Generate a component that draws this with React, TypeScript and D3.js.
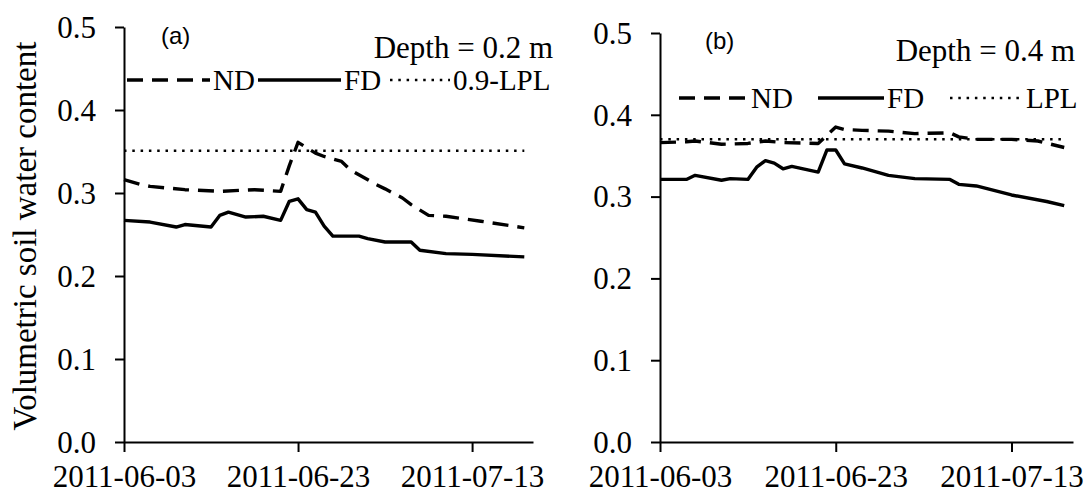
import { useEffect, useRef } from "react";
import * as d3 from "d3";

// shared axis values
const xStart = "2011-06-03";
const xEnd = "2011-07-20";
const xTickLabels = ["2011-06-03", "2011-06-23", "2011-07-13"];
const yTickValues = [0, 0.1, 0.2, 0.3, 0.4, 0.5];

// panel (a), depth 0.2 m
const fdDatesA = ["2011-06-03", "2011-06-06", "2011-06-09", "2011-06-10", "2011-06-13", "2011-06-14", "2011-06-15", "2011-06-17", "2011-06-19", "2011-06-21", "2011-06-22", "2011-06-23", "2011-06-24", "2011-06-25", "2011-06-26", "2011-06-27", "2011-06-30", "2011-07-01", "2011-07-03", "2011-07-06", "2011-07-07", "2011-07-10", "2011-07-13", "2011-07-19"];
const fdValuesA = [0.267, 0.265, 0.259, 0.262, 0.259, 0.273, 0.277, 0.271, 0.272, 0.267, 0.29, 0.293, 0.28, 0.277, 0.26, 0.248, 0.248, 0.245, 0.241, 0.241, 0.231, 0.227, 0.226, 0.223];
const ndDatesA = ["2011-06-03", "2011-06-05", "2011-06-06", "2011-06-10", "2011-06-14", "2011-06-18", "2011-06-21", "2011-06-22", "2011-06-23", "2011-06-25", "2011-06-26", "2011-06-28", "2011-06-29", "2011-07-02", "2011-07-03", "2011-07-05", "2011-07-06", "2011-07-08", "2011-07-10", "2011-07-14", "2011-07-19"];
const ndValuesA = [0.316, 0.31, 0.308, 0.304, 0.302, 0.304, 0.302, 0.333, 0.361, 0.348, 0.344, 0.338, 0.328, 0.31, 0.305, 0.294, 0.286, 0.273, 0.272, 0.266, 0.258];
const lplDatesA = ["2011-06-03", "2011-07-19"];
const lplValuesA = [0.351, 0.351];

// panel (b), depth 0.4 m
const fdDatesB = ["2011-06-03", "2011-06-06", "2011-06-07", "2011-06-10", "2011-06-11", "2011-06-13", "2011-06-14", "2011-06-15", "2011-06-16", "2011-06-17", "2011-06-18", "2011-06-21", "2011-06-22", "2011-06-23", "2011-06-24", "2011-06-26", "2011-06-28", "2011-06-29", "2011-07-02", "2011-07-06", "2011-07-07", "2011-07-09", "2011-07-13", "2011-07-17", "2011-07-19"];
const fdValuesB = [0.321, 0.321, 0.326, 0.32, 0.322, 0.321, 0.336, 0.344, 0.341, 0.334, 0.337, 0.33, 0.357, 0.357, 0.34, 0.335, 0.329, 0.326, 0.322, 0.321, 0.315, 0.313, 0.302, 0.294, 0.289];
const ndDatesB = ["2011-06-03", "2011-06-06", "2011-06-07", "2011-06-10", "2011-06-13", "2011-06-15", "2011-06-17", "2011-06-21", "2011-06-23", "2011-06-24", "2011-06-26", "2011-06-29", "2011-07-02", "2011-07-06", "2011-07-07", "2011-07-09", "2011-07-13", "2011-07-16", "2011-07-19"];
const ndValuesB = [0.366, 0.367, 0.368, 0.364, 0.365, 0.368, 0.366, 0.365, 0.385, 0.382, 0.381, 0.38, 0.377, 0.378, 0.373, 0.37, 0.37, 0.368, 0.36];
const lplDatesB = ["2011-06-03", "2011-07-19"];
const lplValuesB = [0.37, 0.37];

const parseDate = d3.utcParse("%Y-%m-%d");
const serif = "'Liberation Serif', 'Times New Roman', serif";
const sans = "'Liberation Sans', Arial, sans-serif";

const DASH = "16,9";
const DOT = "2.5,5.8";

interface Panel {
  left: number;
  right: number;
  top: number;
  bottom: number;
  tag: string;
  tagX: number;
  tagY: number;
  depth: string;
  depthX: number;
  depthY: number;
  legendX: number[];
  legendY: number;
  legendLen: number[];
  lplLabel: string;
  fd: [string[], number[]];
  nd: [string[], number[]];
  lpl: [string[], number[]];
}

const panels: Panel[] = [
  {
    left: 124, right: 533, top: 27, bottom: 442,
    tag: "(a)", tagX: 161, tagY: 44,
    depth: "Depth = 0.2 m", depthX: 553, depthY: 58,
    legendX: [127, 258, 390], legendY: 80, legendLen: [83, 83, 60],
    lplLabel: "0.9-LPL",
    fd: [fdDatesA, fdValuesA], nd: [ndDatesA, ndValuesA], lpl: [lplDatesA, lplValuesA],
  },
  {
    left: 660, right: 1073, top: 33, bottom: 442,
    tag: "(b)", tagX: 705, tagY: 49,
    depth: "Depth = 0.4 m", depthX: 1075, depthY: 61,
    legendX: [679, 818, 950], legendY: 98, legendLen: [69, 66, 73],
    lplLabel: "LPL",
    fd: [fdDatesB, fdValuesB], nd: [ndDatesB, ndValuesB], lpl: [lplDatesB, lplValuesB],
  },
];

export default function App() {
  const svgRef = useRef<SVGSVGElement>(null);

  useEffect(() => {
    if (!svgRef.current) return;
    const svg = d3.select(svgRef.current);
    svg.selectAll("*").remove();

    // y title
    svg
      .append("text")
      .attr("transform", "translate(36, 236) rotate(-90)")
      .attr("text-anchor", "middle")
      .attr("font-family", serif)
      .attr("font-size", "33px")
      .attr("fill", "#000")
      .text("Volumetric soil water content");

    panels.forEach((p) => {
      const x = d3
        .scaleUtc()
        .domain([parseDate(xStart)!, parseDate(xEnd)!])
        .range([p.left, p.right]);
      const y = d3.scaleLinear().domain([0, 0.5]).range([p.bottom, p.top]);

      // x axis
      const xAxis = svg
        .append("g")
        .attr("transform", `translate(0, ${p.bottom})`)
        .call(
          d3
            .axisBottom(x)
            .tickValues(xTickLabels.map((d) => parseDate(d)!))
            .tickFormat((d) => d3.utcFormat("%Y-%m-%d")(d as Date))
            .tickSize(10)
            .tickSizeOuter(0)
        )
        .attr("font-family", serif);
      xAxis.select(".domain").attr("stroke", "#000").attr("stroke-width", 2);
      xAxis.selectAll(".tick line").attr("stroke", "#000").attr("stroke-width", 2);
      xAxis
        .selectAll(".tick text")
        .attr("font-family", serif)
        .attr("font-size", "31px")
        .attr("fill", "#000")
        .attr("dy", null)
        .attr("y", 45);

      // y axis
      const yAxis = svg
        .append("g")
        .attr("transform", `translate(${p.left}, 0)`)
        .call(
          d3
            .axisLeft(y)
            .tickValues(yTickValues)
            .tickFormat(d3.format(".1f"))
            .tickSize(9)
            .tickSizeOuter(0)
        )
        .attr("font-family", serif);
      yAxis.select(".domain").attr("stroke", "#000").attr("stroke-width", 2);
      yAxis.selectAll(".tick line").attr("stroke", "#000").attr("stroke-width", 2);
      yAxis
        .selectAll(".tick text")
        .attr("font-family", serif)
        .attr("font-size", "31px")
        .attr("fill", "#000")
        .attr("x", -28)
        .attr("dy", "0.33em");

      const line = d3
        .line<[Date, number]>()
        .x((d) => x(d[0]))
        .y((d) => y(d[1]));

      const series = (s: [string[], number[]]) =>
        s[0].map((d, i) => [parseDate(d)!, s[1][i]] as [Date, number]);

      const styles: { data: [string[], number[]]; dash: string | null; w: number }[] = [
        { data: p.lpl, dash: DOT, w: 2.5 },
        { data: p.nd, dash: DASH, w: 3.4 },
        { data: p.fd, dash: null, w: 3.4 },
      ];
      styles.forEach((s) => {
        svg
          .append("path")
          .datum(series(s.data))
          .attr("d", line)
          .attr("fill", "none")
          .attr("stroke", "#000")
          .attr("stroke-width", s.w)
          .attr("stroke-linejoin", "round")
          .attr("stroke-dasharray", s.dash);
      });

      // panel tag
      svg
        .append("text")
        .attr("x", p.tagX)
        .attr("y", p.tagY)
        .attr("font-family", sans)
        .attr("font-size", "24px")
        .attr("fill", "#000")
        .text(p.tag);

      svg
        .append("text")
        .attr("x", p.depthX)
        .attr("y", p.depthY)
        .attr("text-anchor", "end")
        .attr("font-family", serif)
        .attr("font-size", "31px")
        .attr("fill", "#000")
        .text(p.depth);

      // legend
      const legendItems = [
        { label: "ND", dash: DASH, w: 3.4 },
        { label: "FD", dash: null, w: 3.4 },
        { label: p.lplLabel, dash: DOT, w: 2.5 },
      ];
      legendItems.forEach((item, i) => {
        const lx = p.legendX[i];
        const len = p.legendLen[i];
        svg
          .append("line")
          .attr("x1", lx)
          .attr("x2", lx + len)
          .attr("y1", p.legendY)
          .attr("y2", p.legendY)
          .attr("stroke", "#000")
          .attr("stroke-width", item.w)
          .attr("stroke-dasharray", item.dash);
        svg
          .append("text")
          .attr("x", lx + len + 3)
          .attr("y", p.legendY + 10)
          .attr("font-family", serif)
          .attr("font-size", "29px")
          .attr("fill", "#000")
          .text(item.label);
      });
    });
  }, []);

  return (
    <svg
      ref={svgRef}
      width={1091}
      height={495}
      style={{ position: "absolute", left: 0, top: 0, background: "#fff" }}
    ></svg>
  );
}
